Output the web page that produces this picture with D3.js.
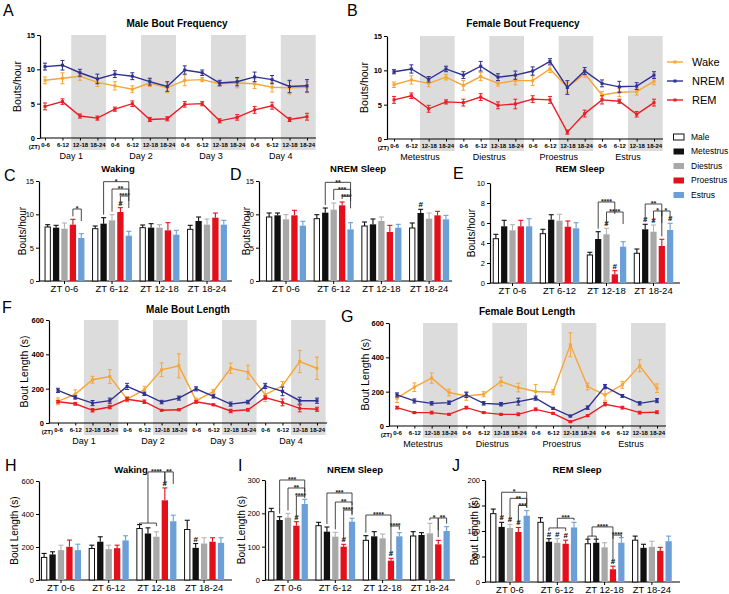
<!DOCTYPE html>
<html><head><meta charset="utf-8">
<script src="https://cdn.jsdelivr.net/npm/d3@7"></script>
<style>body{margin:0;background:#fff} svg{display:block} text{font-family:"Liberation Sans",Arial,sans-serif}</style>
</head><body>
<svg id="c" width="729" height="594"></svg>
<script>
// ---------------- DATA ----------------
const ztLabels = ["0-6","6-12","12-18","18-24"];
const dayLabels = ["Day 1","Day 2","Day 3","Day 4"];
const cycleLabels = ["Metestrus","Diestrus","Proestrus","Estrus"];
const groupLabels = ["ZT 0-6","ZT 6-12","ZT 12-18","ZT 18-24"];
const barSeries = ["Male","Metestrus","Diestrus","Proestrus","Estrus"];
const lineSeries = ["Wake","NREM","REM"];

// A: Male bout frequency (bouts/hour)
const maleFreqWake = [8.4,8.7,9.0,8.1,7.6,7.1,8.0,7.3,8.4,8.5,7.9,8.0,7.9,7.4,7.3,7.4];
const maleFreqNREM = [10.4,10.6,9.5,8.6,9.3,9.0,8.2,7.5,9.9,9.5,8.0,8.2,8.9,8.5,7.5,7.6];
const maleFreqREM  = [4.6,5.3,3.2,2.9,4.2,5.0,2.7,2.8,4.9,5.0,2.5,3.0,4.1,4.7,2.7,3.1];
const maleFreqWakeErr = [0.5,0.8,0.6,0.6,0.6,0.5,0.5,0.7,0.8,0.3,0.3,0.7,0.7,0.7,0.9,0.8];
const maleFreqNREMErr = [0.5,0.7,0.5,0.7,0.5,0.5,0.5,0.7,0.6,0.4,0.4,0.6,0.7,0.6,0.9,0.9];
const maleFreqREMErr  = [0.5,0.4,0.3,0.3,0.3,0.4,0.3,0.3,0.4,0.3,0.3,0.4,0.5,0.5,0.3,0.5];

// B: Female bout frequency
const femFreqWake = [7.9,8.6,8.1,9.0,7.8,9.1,8.1,8.5,8.5,10.2,7.5,9.5,6.4,6.8,6.9,8.4];
const femFreqNREM = [9.8,10.2,8.7,10.2,9.3,10.6,9.0,9.3,9.9,11.3,7.5,9.9,8.1,7.6,7.7,9.3];
const femFreqREM  = [5.7,6.3,4.4,5.4,5.3,6.1,4.9,5.1,5.8,5.7,1.0,3.7,5.7,5.5,3.6,5.3];
const femFreqWakeErr = [0.4,0.6,0.5,0.4,0.7,0.6,0.4,0.6,0.7,0.5,0.7,0.5,0.5,0.6,0.5,0.5];
const femFreqNREMErr = [0.3,0.6,0.4,0.4,0.5,0.7,0.5,0.6,0.6,0.4,1.0,0.5,0.5,0.8,0.5,0.5];
const femFreqREMErr  = [0.5,0.4,0.5,0.3,0.5,0.5,0.5,0.7,0.5,0.5,0.3,0.5,0.6,0.3,0.4,0.5];

// F: Male bout length (s)
const maleLenWake = [126,168,252,271,139,194,310,333,130,184,319,296,165,217,358,319];
const maleLenNREM = [190,149,116,130,213,170,122,145,199,155,110,122,216,184,130,130];
const maleLenREM  = [124,112,74,93,138,124,74,77,124,106,70,77,148,120,85,80];
const maleLenWakeErr = [20,25,20,40,15,20,40,70,15,12,30,40,40,25,65,65];
const maleLenNREMErr = [12,10,15,15,18,10,10,12,12,10,12,10,15,25,20,15];
const maleLenREMErr  = [8,8,10,10,10,10,5,5,8,5,10,8,10,20,20,12];

// G: Female bout length (s)
const femLenWake = [162,226,279,195,175,185,259,224,201,197,473,230,181,240,351,220];
const femLenNREM = [181,146,132,136,181,132,127,142,162,103,58,107,230,175,132,148];
const femLenREM  = [107,78,78,68,107,78,68,68,97,74,25,60,127,107,78,80];
const femLenWakeErr = [25,25,30,20,25,15,25,25,40,15,70,20,35,20,35,25];
const femLenNREMErr = [12,12,10,10,15,10,10,20,12,5,5,10,12,8,10,12];
const femLenREMErr  = [8,5,8,5,8,5,5,8,8,5,5,5,10,8,8,8];

// C: Waking bouts/hour  [series][group]
const wakeFreqMean = [[8.1,7.85,8.0,7.75],[8.0,8.6,8.0,9.0],[7.85,9.1,8.0,8.45],[8.45,10.35,7.6,9.5],[6.45,6.8,6.95,8.45]];
const wakeFreqErr  = [[0.35,0.4,0.4,0.6],[0.35,0.9,0.6,0.6],[0.85,0.85,0.45,0.85],[0.8,0.65,1.15,0.7],[0.65,0.65,0.65,0.65]];
// D: NREM bouts/hour
const nremFreqMean = [[9.6,9.35,8.25,7.95],[9.85,10.25,8.5,10.2],[9.25,10.7,9.0,9.35],[9.85,11.35,7.35,9.85],[8.3,7.75,8.0,9.25]];
const nremFreqErr  = [[0.6,0.6,0.6,0.75],[0.35,0.7,0.8,0.55],[0.7,1.0,0.6,0.85],[0.75,0.5,1.0,0.6],[0.65,1.0,0.5,0.6]];
// E: REM bouts/hour
const remFreqMean = [[4.43,4.93,2.8,2.97],[5.67,6.33,4.4,5.37],[5.27,6.23,4.87,5.13],[5.67,5.63,0.87,3.7],[5.67,5.47,3.63,5.3]];
const remFreqErr  = [[0.44,0.44,0.27,0.43],[0.6,0.5,0.73,0.5],[0.56,0.64,0.6,0.67],[0.6,0.57,0.36,0.67],[0.76,0.56,0.5,0.67]];
// H: Waking bout length
const wakeLenMean = [[137,191,312,306],[155,232,282,195],[181,187,262,221],[201,193,483,232],[181,240,356,225]];
const wakeLenErr  = [[24,20,24,56],[16,30,34,26],[30,24,30,35],[41,18,75,24],[36,28,37,31]];
// I: NREM bout length
const nremLenMean = [[205,163,119,132],[180,145,131,135],[187,130,125,140],[163,100,58,107],[228,175,131,147]];
const nremLenErr  = [[10,10,14,13],[10,14,14,7],[13,13,13,30],[12,7,7,12],[14,10,11,13]];
// J: REM bout length
const remLenMean = [[134,117,75,82],[108,79,77,67],[106,77,68,69],[98,75,25,61],[130,107,77,80]];
const remLenErr  = [[9,9,9,8],[9,6,7,7],[7,8,9,11],[9,7,6,7],[10,10,10,10]];

// "#" marks: [group, series]
const hashC = [[1,3]];
const hashD = [[3,1]];
const hashE = [[2,2],[2,3],[3,1],[3,2],[3,4]];
const hashH = [[2,3],[3,1]];
const hashI = [[0,3],[1,3],[2,3]];
const hashJ = [[0,1],[0,2],[0,3],[1,1],[1,2],[1,3],[2,3]];

// significance brackets: group, from series (or comb range), to series, level (data units), label
const sigC = [{g:0,a:3,b:4,v:10.8,t:"*"},{g:1,a:1,b:4,v:14.9,t:"*"},{g:1,a:2,b:4,v:13.8,t:"**"},{g:1,a:3,b:4,v:12.75,t:"****"}];
const sigD = [{g:1,a:1,b:4,v:14.8,t:"**"},{g:1,a:2,b:4,v:13.75,t:"***"},{g:1,a:3,b:4,v:12.7,t:"****"}];
const sigE = [{g:2,a:1,b:3,v:8.1,t:"****"},{g:2,a:2,b:4,v:7.1,t:"****"},{g:3,a:1,b:3,v:7.9,t:"**"},{g:3,a:2,b:3,v:7.2,t:"*"},{g:3,a:3,b:4,v:7.2,t:"*"}];
const sigH = [{g:2,comb:[0,2],cv:345,b:3,v:655,t:"****"},{g:2,a:3,b:4,v:655,t:"**"}];
const sigI = [{g:0,a:1,b:4,v:300,t:"***"},{g:0,a:2,b:4,v:276,t:"**"},{g:0,a:3,b:4,v:252,t:"****"},
              {g:1,a:1,b:4,v:261,t:"***"},{g:1,a:2,b:4,v:234,t:"**"},{g:1,a:3,b:4,v:210,t:"****"},
              {g:2,a:0,b:3,v:195,t:"****"},{g:2,a:3,b:4,v:162,t:"****"},
              {g:3,a:2,b:3,v:186,t:"*"},{g:3,a:3,b:4,v:186,t:"**"}];
const sigJ = [{g:0,a:1,b:4,v:176,t:"*"},{g:0,a:2,b:4,v:164,t:"**"},{g:0,a:3,b:4,v:150,t:"***"},
              {g:1,comb:[1,3],cv:106,b:4,v:125,t:"***"},
              {g:2,comb:[0,1],cv:90,b:3,v:108,t:"****"},{g:2,a:3,b:4,v:92,t:"****"}];

// ---------------- STYLE ----------------
const svg = d3.select("#c");
const lineColors = {Wake:"#f7a535", NREM:"#2e3192", REM:"#ec1c24"};
const barFill   = ["#ffffff","#111111","#a8a8a8","#e30f1b","#6b9fd8"];
const barStroke = ["#111111","#111111","#a8a8a8","#e30f1b","#6b9fd8"];
const errCol    = ["#111111","#111111","#b4b4b4","#e30f1b","#6b9fd8"];

function letter(t,x,y){ svg.append("text").attr("x",x).attr("y",y).attr("font-size",16).attr("fill","#000").text(t); }

function styleAxis(sel, fs, bold){
  sel.select(".domain").attr("stroke","#000").attr("stroke-width",1.2);
  sel.selectAll(".tick line").attr("stroke","#000").attr("stroke-width",1);
  sel.selectAll(".tick text").attr("font-size",fs).attr("font-weight",bold?"bold":"normal")
     .attr("font-family",'"Liberation Sans",Arial,sans-serif').attr("fill","#000");
}

// ---------------- LINE PANELS ----------------
function linePanel(cfg){
  const g = svg.append("g");
  const idx = d3.range(16);
  const x = d3.scalePoint().domain(idx).range([cfg.x0, cfg.x1]);
  const step = x.step();
  const y = d3.scaleLinear().domain([0,cfg.yMax]).range([cfg.bottom, cfg.top]);
  [2,6,10,14].forEach(i=>{
    g.append("rect").attr("x",x(i)-step/2).attr("y",cfg.top).attr("width",step*2)
     .attr("height",cfg.bottom+12-cfg.top).attr("fill","#dcdcdc");
  });
  const ya = g.append("g").attr("transform",`translate(${cfg.axisX},0)`)
    .call(d3.axisLeft(y).tickValues(cfg.ticks).tickSize(3).tickSizeOuter(0).tickPadding(2));
  styleAxis(ya,7.5,true);
  g.append("line").attr("x1",cfg.axisX).attr("x2",cfg.xEnd).attr("y1",cfg.bottom).attr("y2",cfg.bottom)
    .attr("stroke","#000").attr("stroke-width",1.2);
  const xa = g.append("g").attr("transform",`translate(0,${cfg.bottom})`)
    .call(d3.axisBottom(x).tickSize(2.5).tickPadding(2).tickFormat(i=>ztLabels[i%4]));
  xa.select(".domain").remove();
  styleAxis(xa,6,true);
  g.append("text").attr("x",cfg.x0-5).attr("y",cfg.bottom+10.5).attr("text-anchor","end")
    .attr("font-size",6).attr("font-weight","bold").text("(ZT)");
  cfg.groups.forEach((lab,k)=>{
    g.append("text").attr("x",(x(k*4+1)+x(k*4+2))/2).attr("y",cfg.bottom+21).attr("text-anchor","middle")
      .attr("font-size",9).text(lab);
  });
  cfg.series.forEach(s=>{
    const col = lineColors[s.name];
    g.append("path").datum(s.v).attr("fill","none").attr("stroke",col).attr("stroke-width",1.4)
      .attr("d",d3.line().x((d,i)=>x(i)).y(d=>y(d)));
    s.v.forEach((v,i)=>{
      const e = s.e[i];
      g.append("line").attr("x1",x(i)).attr("x2",x(i)).attr("y1",y(v-e)).attr("y2",y(v+e)).attr("stroke",col).attr("stroke-width",1);
      [v-e,v+e].forEach(w=>g.append("line").attr("x1",x(i)-2).attr("x2",x(i)+2).attr("y1",y(w)).attr("y2",y(w)).attr("stroke",col).attr("stroke-width",1));
      g.append("rect").attr("x",x(i)-1.5).attr("y",y(v)-1.5).attr("width",3).attr("height",3).attr("fill",col);
    });
  });
  g.append("text").attr("x",cfg.titleX).attr("y",cfg.titleY).attr("text-anchor","middle")
    .attr("font-size",10).attr("font-weight","bold").text(cfg.title);
  g.append("text").attr("transform",`translate(${cfg.labelX},${(cfg.top+cfg.bottom)/2}) rotate(-90)`)
    .attr("text-anchor","middle").attr("dy","0.35em").attr("font-size",10.5).text(cfg.ylabel);
}

linePanel({axisX:40, x0:45, x1:307, xEnd:316, top:35, bottom:138, yMax:15, ticks:[0,5,10,15],
  title:"Male Bout Frequency", titleX:177, titleY:27, ylabel:"Bouts/hour", labelX:17, groups:dayLabels,
  series:[{name:"Wake",v:maleFreqWake,e:maleFreqWakeErr},{name:"NREM",v:maleFreqNREM,e:maleFreqNREMErr},{name:"REM",v:maleFreqREM,e:maleFreqREMErr}]});
linePanel({axisX:387, x0:394, x1:654, xEnd:663, top:36, bottom:139, yMax:15, ticks:[0,5,10,15],
  title:"Female Bout Frequency", titleX:523, titleY:27, ylabel:"Bouts/hour", labelX:364, groups:cycleLabels,
  series:[{name:"Wake",v:femFreqWake,e:femFreqWakeErr},{name:"NREM",v:femFreqNREM,e:femFreqNREMErr},{name:"REM",v:femFreqREM,e:femFreqREMErr}]});
linePanel({axisX:49, x0:58, x1:317, xEnd:327, top:320, bottom:423, yMax:600, ticks:[0,200,400,600],
  title:"Male Bout Length", titleX:188, titleY:313, ylabel:"Bout Length (s)", labelX:24, groups:dayLabels,
  series:[{name:"Wake",v:maleLenWake,e:maleLenWakeErr},{name:"NREM",v:maleLenNREM,e:maleLenNREMErr},{name:"REM",v:maleLenREM,e:maleLenREMErr}]});
linePanel({axisX:389, x0:397, x1:657, xEnd:666, top:323, bottom:426, yMax:600, ticks:[0,200,400,600],
  title:"Female Bout Length", titleX:527, titleY:315, ylabel:"Bout Length (s)", labelX:365, groups:cycleLabels,
  series:[{name:"Wake",v:femLenWake,e:femLenWakeErr},{name:"NREM",v:femLenNREM,e:femLenNREMErr},{name:"REM",v:femLenREM,e:femLenREMErr}]});

// ---------------- BAR PANELS ----------------
function barPanel(cfg){
  const g = svg.append("g");
  const y = d3.scaleLinear().domain([0,cfg.yMax]).range([cfg.bottom,cfg.top]);
  const p = 0.16;
  const x0 = d3.scaleBand().domain(groupLabels)
    .range([cfg.c0-cfg.step/2, cfg.c0+cfg.step*3.5]).paddingInner(p).paddingOuter(p/2);
  const x1 = d3.scaleBand().domain(barSeries).range([0,x0.bandwidth()]).paddingInner(0.25);
  const bw = x1.bandwidth();
  const cx = (gi,si)=> x0(groupLabels[gi]) + x1(barSeries[si]) + bw/2;
  const topOf = (gi,si)=> y(cfg.mean[si][gi]+cfg.err[si][gi]);

  const ya = g.append("g").attr("transform",`translate(${cfg.axisX},0)`)
    .call(d3.axisLeft(y).tickValues(cfg.ticks).tickSize(3).tickSizeOuter(0).tickPadding(2));
  styleAxis(ya,7.5,false);
  g.append("line").attr("x1",cfg.axisX).attr("x2",cfg.xEnd).attr("y1",cfg.bottom).attr("y2",cfg.bottom)
    .attr("stroke","#000").attr("stroke-width",1.2);
  const xa = g.append("g").attr("transform",`translate(0,${cfg.bottom})`)
    .call(d3.axisBottom(x0).tickSize(3).tickPadding(1.5));
  xa.select(".domain").remove();
  styleAxis(xa,9.5,false);

  barSeries.forEach((s,si)=>{
    groupLabels.forEach((gl,gi)=>{
      const v = cfg.mean[si][gi], e = cfg.err[si][gi];
      const xc = cx(gi,si);
      g.append("line").attr("x1",xc).attr("x2",xc).attr("y1",y(v)).attr("y2",y(v+e))
        .attr("stroke",errCol[si]).attr("stroke-width",1.1);
      g.append("line").attr("x1",xc-2.5).attr("x2",xc+2.5).attr("y1",y(v+e)).attr("y2",y(v+e))
        .attr("stroke",errCol[si]).attr("stroke-width",1.1);
      g.append("rect").attr("x",x0(gl)+x1(s)+(si===0?0.5:0)).attr("y",y(v))
        .attr("width",bw-(si===0?1:0)).attr("height",cfg.bottom-y(v))
        .attr("fill",barFill[si]).attr("stroke",si===0?barStroke[si]:"none").attr("stroke-width",1);
    });
  });
  cfg.hash.forEach(([gi,si])=>{
    g.append("text").attr("x",cx(gi,si)).attr("y",topOf(gi,si)-2).attr("text-anchor","middle")
      .attr("font-size",8).attr("font-weight","bold").text("#");
  });
  const ln = (a,b,c,d)=> g.append("line").attr("x1",a).attr("y1",b).attr("x2",c).attr("y2",d)
      .attr("stroke","#333").attr("stroke-width",0.9);
  cfg.sig.forEach(s=>{
    const yb = y(s.v);
    let xa_, xb_ = cx(s.g,s.b);
    if(s.comb){
      const yc = y(s.cv);
      const l = cx(s.g,s.comb[0]), r = cx(s.g,s.comb[1]);
      ln(l,yc,r,yc); ln(l,yc,l,yc+3); ln(r,yc,r,yc+3);
      xa_ = (l+r)/2; ln(xa_,yc,xa_,yb);
    } else {
      xa_ = cx(s.g,s.a);
      ln(xa_,yb,xa_,Math.max(yb+2,topOf(s.g,s.a)-3));
    }
    ln(xa_,yb,xb_,yb);
    ln(xb_,yb,xb_,Math.max(yb+2,Math.min(topOf(s.g,s.b)-3,yb+12)));
    g.append("text").attr("x",(xa_+xb_)/2).attr("y",yb+2.2).attr("text-anchor","middle")
      .attr("font-size",7).attr("font-weight","bold").attr("fill","#222").text(s.t);
  });
  g.append("text").attr("x",cfg.titleX).attr("y",cfg.titleY).attr("text-anchor","middle")
    .attr("font-size",9.5).attr("font-weight","bold").text(cfg.title);
  g.append("text").attr("transform",`translate(${cfg.labelX},${(cfg.top+cfg.bottom)/2}) rotate(-90)`)
    .attr("text-anchor","middle").attr("dy","0.35em").attr("font-size",10).text(cfg.ylabel);
}

barPanel({axisX:39, c0:64.5, step:47.5, xEnd:232, top:181, bottom:281, yMax:15, ticks:[0,5,10,15],
  mean:wakeFreqMean, err:wakeFreqErr, hash:hashC, sig:sigC, title:"Waking", titleX:118, titleY:172, ylabel:"Bouts/hour", labelX:22});
barPanel({axisX:259, c0:286, step:47.7, xEnd:452, top:181, bottom:281, yMax:15, ticks:[0,5,10,15],
  mean:nremFreqMean, err:nremFreqErr, hash:hashD, sig:sigD, title:"NREM Sleep", titleX:358, titleY:172, ylabel:"Bouts/hour", labelX:246});
barPanel({axisX:490, c0:512.5, step:47, xEnd:680, top:183, bottom:283, yMax:10, ticks:[0,2,4,6,8,10],
  mean:remFreqMean, err:remFreqErr, hash:hashE, sig:sigE, title:"REM Sleep", titleX:580, titleY:172, ylabel:"Bouts/hour", labelX:471});
barPanel({axisX:39, c0:61, step:47.7, xEnd:232, top:481, bottom:580, yMax:600, ticks:[0,200,400,600],
  mean:wakeLenMean, err:wakeLenErr, hash:hashH, sig:sigH, title:"Waking", titleX:131, titleY:473, ylabel:"Bout Length (s)", labelX:14});
barPanel({axisX:265, c0:288, step:47.3, xEnd:455, top:480, bottom:580, yMax:300, ticks:[0,100,200,300],
  mean:nremLenMean, err:nremLenErr, hash:hashI, sig:sigI, title:"NREM Sleep", titleX:355, titleY:473, ylabel:"Bout Length (s)", labelX:241});
barPanel({axisX:485, c0:510, step:47.3, xEnd:680, top:480, bottom:582, yMax:200, ticks:[0,50,100,150,200],
  mean:remLenMean, err:remLenErr, hash:hashJ, sig:sigJ, title:"REM Sleep", titleX:577, titleY:473, ylabel:"Bout Length (s)", labelX:474});

// ---------------- LEGENDS ----------------
lineSeries.forEach((s,i)=>{
  const yy = 62 + i*19, col = lineColors[s];
  svg.append("line").attr("x1",667).attr("x2",683).attr("y1",yy).attr("y2",yy).attr("stroke",col).attr("stroke-width",1.4);
  svg.append("rect").attr("x",673.5).attr("y",yy-1.5).attr("width",3).attr("height",3).attr("fill",col);
  svg.append("text").attr("x",692).attr("y",yy).attr("dy","0.35em").attr("font-size",11).text(s);
});
barSeries.forEach((s,i)=>{
  const yy = 137 + i*14.5;
  svg.append("rect").attr("x",673.5).attr("y",yy-3).attr("width",10.5).attr("height",6)
    .attr("fill",barFill[i]).attr("stroke",i===0?"#111":"none").attr("stroke-width",1);
  svg.append("text").attr("x",691).attr("y",yy).attr("dy","0.35em").attr("font-size",8.5).text(s);
});

// ---------------- PANEL LETTERS ----------------
letter("A",3,16); letter("B",347,16);
letter("C",4,181); letter("D",230,180); letter("E",453,179);
letter("F",2,313); letter("G",341,322);
letter("H",5,471); letter("I",238,471); letter("J",452,471);
</script>
</body></html>
